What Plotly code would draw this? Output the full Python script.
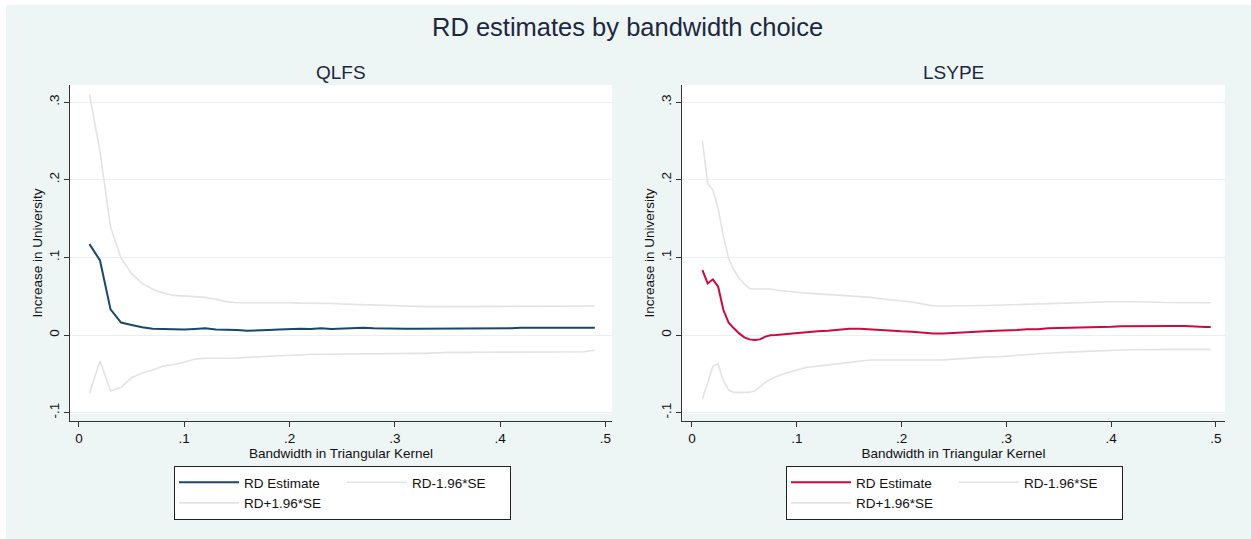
import plotly.graph_objects as go

# ---------------- data ----------------
bw_qlfs = [0.01, 0.02, 0.03, 0.04, 0.05, 0.06, 0.07, 0.08, 0.09, 0.10,
           0.11, 0.12, 0.13, 0.14, 0.15, 0.16, 0.17, 0.18, 0.19, 0.20,
           0.21, 0.22, 0.23, 0.24, 0.25, 0.26, 0.27, 0.28, 0.29, 0.30,
           0.31, 0.32, 0.33, 0.34, 0.35, 0.36, 0.37, 0.38, 0.39, 0.40,
           0.41, 0.42, 0.43, 0.44, 0.45, 0.46, 0.47, 0.48, 0.49]
qlfs_est = [0.117, 0.096, 0.033, 0.016, 0.013, 0.010, 0.008, 0.0077, 0.007, 0.007,
            0.0078, 0.0086, 0.007, 0.007, 0.0064, 0.0056, 0.0056, 0.0064, 0.007, 0.0077,
            0.008, 0.0077, 0.0086, 0.0078, 0.0082, 0.0092, 0.0094, 0.0086, 0.0082, 0.0082,
            0.0082, 0.0082, 0.0082, 0.0082, 0.0082, 0.0082, 0.0082, 0.0082, 0.0082, 0.0082,
            0.0088, 0.0094, 0.0094, 0.0094, 0.0094, 0.0094, 0.0094, 0.0094, 0.0094]
qlfs_upper = [0.310, 0.236, 0.139, 0.099, 0.079, 0.0665, 0.059, 0.054, 0.051, 0.050,
              0.049, 0.0485, 0.046, 0.043, 0.0416, 0.0416, 0.042, 0.0425, 0.0425, 0.0416,
              0.041, 0.041, 0.041, 0.0405, 0.040, 0.0395, 0.039, 0.0385, 0.038, 0.0375,
              0.037, 0.0368, 0.0365, 0.0365, 0.0365, 0.0365, 0.0365, 0.0373, 0.0373, 0.0373,
              0.0373, 0.0373, 0.0373, 0.0373, 0.0373, 0.0373, 0.0373, 0.0373, 0.0373]
qlfs_lower = [-0.075, -0.0335, -0.072, -0.0674, -0.055, -0.049, -0.045, -0.040, -0.038, -0.035,
              -0.031, -0.030, -0.030, -0.030, -0.0296, -0.0288, -0.0284, -0.0275, -0.0266, -0.0258,
              -0.0253, -0.025, -0.0248, -0.0246, -0.0244, -0.0242, -0.0236, -0.0236, -0.0236, -0.0236,
              -0.0236, -0.0236, -0.0236, -0.0225, -0.0223, -0.0223, -0.0223, -0.0223, -0.0223, -0.0223,
              -0.0223, -0.0215, -0.0215, -0.0215, -0.0215, -0.0215, -0.0215, -0.0215, -0.0193]

bw_lsype = [0.010, 0.015, 0.020, 0.025, 0.030, 0.035, 0.040, 0.045, 0.050, 0.055,
            0.060, 0.065, 0.070, 0.075,
            0.08, 0.09, 0.10, 0.11, 0.12, 0.13, 0.14, 0.15, 0.16, 0.17,
            0.18, 0.19, 0.20, 0.21, 0.22, 0.23, 0.24, 0.25, 0.26, 0.27,
            0.28, 0.29, 0.30, 0.31, 0.32, 0.33, 0.34, 0.35, 0.36, 0.37,
            0.38, 0.39, 0.40, 0.41, 0.42, 0.43, 0.44, 0.45, 0.46, 0.47,
            0.48, 0.49, 0.495]
lsype_est = [0.0837, 0.0665, 0.0717, 0.0622, 0.0322, 0.0159, 0.0086, 0.0021, -0.003, -0.0056,
             -0.0064, -0.0056, -0.0021, -0.0004,
             0.0, 0.0013, 0.0026, 0.0043, 0.0047, 0.0056, 0.0073, 0.0082, 0.0082, 0.0073,
             0.0056, 0.0056, 0.0047, 0.0043, 0.0030, 0.0021, 0.0021, 0.0026, 0.0034, 0.0040,
             0.0050, 0.0056, 0.0058, 0.0065, 0.0073, 0.0075, 0.0088, 0.0090, 0.0095, 0.0103,
             0.0103, 0.0103, 0.0105, 0.0114, 0.0116, 0.0116, 0.0116, 0.0116, 0.0116, 0.0116,
             0.0105, 0.0103, 0.0103]
lsype_upper = [0.2498, 0.1953, 0.1867, 0.163, 0.1266, 0.0987, 0.0837, 0.073, 0.0657, 0.060,
               0.0592, 0.0592, 0.060, 0.0592,
               0.058, 0.0562, 0.055, 0.054, 0.0532, 0.0524, 0.0515, 0.051, 0.050, 0.0485,
               0.0468, 0.045, 0.0438, 0.0425, 0.040, 0.0375, 0.0373, 0.0373, 0.0373, 0.0376,
               0.038, 0.0384, 0.0388, 0.0395, 0.0402, 0.0408, 0.041, 0.0415, 0.042, 0.0425,
               0.0428, 0.0429, 0.0429, 0.0429, 0.0429, 0.0429, 0.0425, 0.0418, 0.0416, 0.0416,
               0.0416, 0.0416, 0.0416]
lsype_lower = [-0.0824, -0.060, -0.040, -0.0373, -0.0592, -0.0708, -0.0738, -0.0738, -0.0738, -0.0736,
               -0.0721, -0.0665, -0.061, -0.0571,
               -0.0536, -0.049, -0.045, -0.0416, -0.040, -0.0386, -0.0369, -0.0352, -0.0335, -0.0322,
               -0.0322, -0.0322, -0.0322, -0.0322, -0.0322, -0.0322, -0.032, -0.031, -0.030, -0.029,
               -0.0285, -0.028, -0.0275, -0.026, -0.025, -0.024, -0.0233, -0.0225, -0.022, -0.0213,
               -0.0205, -0.0198, -0.0193, -0.0193, -0.019, -0.0187, -0.0185, -0.0185, -0.0185, -0.0185,
               -0.0185, -0.0185, -0.0185]

x_tickvals = [0, 0.1, 0.2, 0.3, 0.4, 0.5]
x_ticktext = ["0", ".1", ".2", ".3", ".4", ".5"]
y_tickvals = [-0.1, 0, 0.1, 0.2, 0.3]
y_ticktext = ["-.1", "0", ".1", ".2", ".3"]

series_names = ["RD Estimate", "RD-1.96*SE", "RD+1.96*SE"]
panel_titles = ["QLFS", "LSYPE"]
main_title = "RD estimates by bandwidth choice"
x_title = "Bandwidth in Triangular Kernel"
y_title = "Increase in University"

# ---------------- styling ----------------
W, H = 1251, 539
FONT = "Liberation Sans, Arial, sans-serif"
BG = "#EEF5F5"
GRID = "#E8F0F1"
BAND = "#E3E3E3"
NAVY = "#1A476F"
RED = "#CC0A3C"
TITLE_C = "#1C2841"

def px_x(p):
    return p / W

def px_y(p):
    return 1 - p / H

fig = go.Figure()

panels = [
    dict(x=bw_qlfs, est=qlfs_est, lo=qlfs_lower, up=qlfs_upper, color=NAVY,
         xa="x", ya="y", legend="legend", dom=(70, 612), xr=(-0.0085, 0.5063), lgx=174),
    dict(x=bw_lsype, est=lsype_est, lo=lsype_lower, up=lsype_upper, color=RED,
         xa="x2", ya="y2", legend="legend2", dom=(682, 1225), xr=(-0.0095, 0.5086), lgx=786),
]

YR = (-0.1107, 0.3219)
Y_DOM = (px_y(421), px_y(85))

for p in panels:
    fig.add_trace(go.Scatter(x=p["x"], y=p["est"], mode="lines", name=series_names[0],
                             line=dict(color=p["color"], width=2),
                             xaxis=p["xa"], yaxis=p["ya"], legend=p["legend"],
                             legendgroup="a", hoverinfo="skip"))
    fig.add_trace(go.Scatter(x=p["x"], y=p["lo"], mode="lines", name=series_names[1],
                             line=dict(color=BAND, width=1.6),
                             xaxis=p["xa"], yaxis=p["ya"], legend=p["legend"],
                             legendgroup="b", hoverinfo="skip"))
    fig.add_trace(go.Scatter(x=p["x"], y=p["up"], mode="lines", name=series_names[2],
                             line=dict(color=BAND, width=1.6),
                             xaxis=p["xa"], yaxis=p["ya"], legend=p["legend"],
                             legendgroup="a", hoverinfo="skip"))

axis_common = dict(showline=True, linecolor="#333333", linewidth=1,
                   ticks="outside", ticklen=5, tickwidth=1, tickcolor="#333333",
                   tickfont=dict(family=FONT, size=13.5, color="#111111"),
                   zeroline=False)

layout = dict(
    width=W, height=H,
    margin=dict(l=0, r=0, t=0, b=0),
    paper_bgcolor=BG, plot_bgcolor=BG,
    showlegend=True,
    font=dict(family=FONT),
    shapes=[], annotations=[],
)

for i, p in enumerate(panels):
    sfx = "" if i == 0 else "2"
    layout["xaxis" + sfx] = dict(
        axis_common, domain=[px_x(p["dom"][0]), px_x(p["dom"][1])],
        range=list(p["xr"]), anchor="y" + sfx,
        tickvals=x_tickvals, ticktext=x_ticktext, showgrid=False,
        title=dict(text=x_title, standoff=2,
                   font=dict(family=FONT, size=13.5, color="#111111")),
    )
    layout["yaxis" + sfx] = dict(
        axis_common, domain=list(Y_DOM), range=list(YR), anchor="x" + sfx,
        tickvals=y_tickvals, ticktext=y_ticktext, tickangle=-90,
        showgrid=True, gridcolor=GRID, gridwidth=1,
        title=dict(text=y_title, standoff=0,
                   font=dict(family=FONT, size=13.5, color="#111111")),
    )
    # white plot region (stops short of the x axis line, as in the original)
    layout["shapes"].append(dict(type="rect", xref="x" + sfx + " domain", yref="y" + sfx,
                                 x0=0, x1=1, y0=-0.1012, y1=YR[1],
                                 fillcolor="white", line=dict(width=0), layer="below"))
    layout["annotations"].append(dict(
        text=panel_titles[i], xref="paper", yref="paper",
        x=px_x((p["dom"][0] + p["dom"][1]) / 2), y=px_y(72),
        xanchor="center", yanchor="middle", showarrow=False,
        font=dict(family=FONT, size=19, color=TITLE_C)))
    layout["legend" + sfx] = dict(
        orientation="h", traceorder="grouped",
        x=px_x(p["lgx"]), y=px_y(466),
        xanchor="left", yanchor="top",
        bgcolor="white", bordercolor="#222222", borderwidth=1,
        itemwidth=60, entrywidth=93, tracegroupgap=0,
        font=dict(family=FONT, size=13.5, color="#111111"),
        itemclick=False, itemdoubleclick=False,
    )

layout["annotations"].append(dict(
    text=main_title, xref="paper", yref="paper", x=px_x(628), y=px_y(27),
    xanchor="center", yanchor="middle", showarrow=False,
    font=dict(family=FONT, size=25.5, color=TITLE_C)))

# thin white border strips at top and left of the page
layout["shapes"].append(dict(type="rect", xref="paper", yref="paper",
                             x0=0, x1=1, y0=px_y(5), y1=1.0,
                             fillcolor="white", line=dict(width=0), layer="below"))
layout["shapes"].append(dict(type="rect", xref="paper", yref="paper",
                             x0=0, x1=px_x(6), y0=0, y1=1.0,
                             fillcolor="white", line=dict(width=0), layer="below"))

fig.update_layout(**layout)
fig.write_html("out.html")
